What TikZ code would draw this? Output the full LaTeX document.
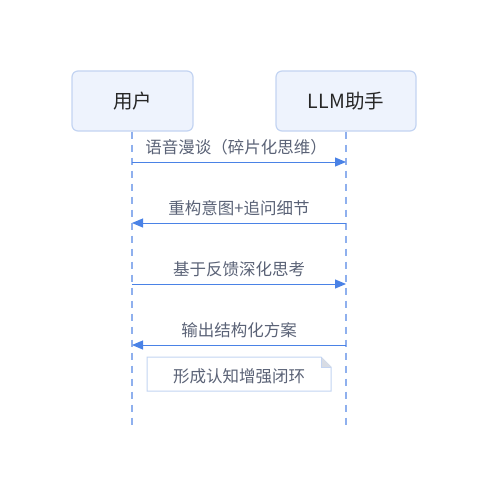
\documentclass[tikz,border=0pt]{standalone}
\usepackage{fontspec}
\setmainfont{Noto Sans CJK SC}
\usetikzlibrary{arrows.meta,calc}
\definecolor{boxfill}{HTML}{EEF3FD}
\definecolor{boxline}{HTML}{C3D4F2}
\definecolor{lifeline}{HTML}{8FB0EE}
\definecolor{msgline}{HTML}{4A82E6}
\definecolor{msgtext}{HTML}{5A6276}
\definecolor{notefold}{HTML}{D8DCE4}
\tikzset{
  actor/.style={draw=boxline,line width=1.2pt,fill=boxfill,rounded corners=6pt,font=\fontsize{19.5}{20}\selectfont,text=black!85},
  life/.style={draw=lifeline,line width=1.1pt,dash pattern=on 7pt off 6pt},
  msg/.style={draw=msgline,line width=1pt,-{Triangle[length=11pt,width=9pt]}},
  mlabel/.style={font=\fontsize{16.5}{17}\selectfont,text=msgtext,inner sep=0pt},
  notebox/.style={draw=boxline,line width=1pt,fill=white}
}
\begin{document}
\begin{tikzpicture}[x=1pt,y=-1pt]
\useasboundingbox (0,0) rectangle (488,500);
% actors
\node[actor,minimum width=121pt,minimum height=60pt] (user) at (132.5,101) {用户};
\node[actor,minimum width=140pt,minimum height=60pt] (llm) at (346,101) {LLM助手};
% lifelines
\coordinate (uend) at (132,428);
\coordinate (lend) at (346,428);
\draw[life] (user.south -| uend) -- (uend);
\draw[life] (llm.south -| lend) -- (lend);
% messages
\coordinate (u1) at (132,162); \coordinate (l1) at (346,162);
\coordinate (u2) at (132,223); \coordinate (l2) at (346,223);
\coordinate (u3) at (132,284); \coordinate (l3) at (346,284);
\coordinate (u4) at (132,345); \coordinate (l4) at (346,345);
\draw[msg] (u1) -- (l1);
\node[mlabel] (m1) at (236,147) {语音漫谈（碎片化思维）};
\draw[msg] (l2) -- (u2);
\node[mlabel] (m2) at (239,208) {重构意图+追问细节};
\draw[msg] (u3) -- (l3);
\node[mlabel] (m3) at (239,269) {基于反馈深化思考};
\draw[msg] (l4) -- (u4);
\node[mlabel] (m4) at (239,330) {输出结构化方案};
% note
\draw[notebox] (147,357) -- (321,357) -- (331,367) -- (331,391) -- (147,391) -- cycle;
\fill[notefold] (321,357) -- (331,367) -- (321,367) -- cycle;
\draw[boxline,line width=0.8pt] (321,357) -- (321,367) -- (331,367);
\node[mlabel] (note) at (239,376) {形成认知增强闭环};
\end{tikzpicture}
\end{document}
